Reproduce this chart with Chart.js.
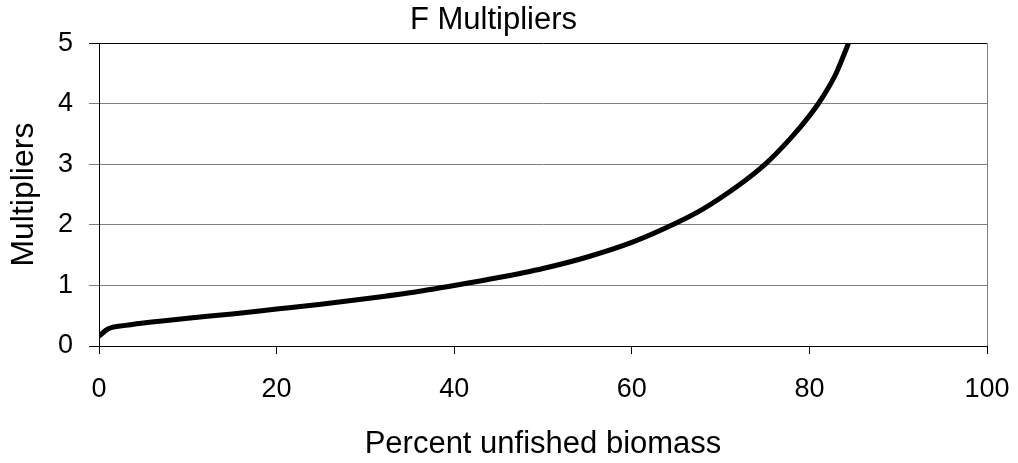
<!DOCTYPE html>
<html>
<head>
<meta charset="utf-8">
<script src="https://cdn.jsdelivr.net/npm/chart.js@4/dist/chart.umd.min.js"></script>
<style>
    html, body { margin: 0; padding: 0; background: #fff; }
    #wrap { width: 1018px; height: 463px; }
</style>
</head>
<body>
<div id="wrap"><canvas id="f-chart" width="1018" height="463"></canvas></div>
<script>
// Percent unfished biomass (x) and F multiplier (y)
const biomass = [0, 1, 3, 5, 10, 15, 20, 25, 30, 35, 40, 45, 50, 55, 60, 65, 68, 72, 75, 78, 80, 81, 82, 83, 84, 84.4];
const multipliers = [0.16, 0.28, 0.34, 0.38, 0.46, 0.53, 0.61, 0.69, 0.78, 0.88, 1.0, 1.13, 1.28, 1.47, 1.71, 2.03, 2.26, 2.65, 3.0, 3.45, 3.8, 4.0, 4.23, 4.5, 4.85, 5.0];
// Axis ticks
const xTicks = [0, 20, 40, 60, 80, 100];
const yTicks = [0, 1, 2, 3, 4, 5];

const FONT = "'Liberation Sans', Arial, sans-serif";

// right border of the plot area (gray, like the grid)
const frameRight = {
    id: 'frameRight',
    afterDraw(chart) {
        const { ctx, chartArea } = chart;
        ctx.save();
        ctx.strokeStyle = '#808080';
        ctx.lineWidth = 1;
        ctx.beginPath();
        ctx.moveTo(chartArea.right + 0.5, chartArea.top);
        ctx.lineTo(chartArea.right + 0.5, chartArea.bottom);
        ctx.stroke();
        ctx.restore();
    }
};

const chartCanvas = document.querySelector('#f-chart');
new Chart(chartCanvas, {
    type: 'line',
    data: {
        datasets: [
            {
                label: 'F multiplier',
                data: biomass.map((b, i) => ({ x: b, y: multipliers[i] })),
                borderColor: '#000',
                borderWidth: 5,
                pointRadius: 0,
                cubicInterpolationMode: 'monotone',
                fill: false
            }
        ]
    },
    options: {
        responsive: false,
        animation: false,
        layout: { padding: { left: 0, right: 31, top: 0, bottom: 0 } },
        plugins: {
            legend: { display: false },
            tooltip: { enabled: false },
            title: {
                display: true,
                text: 'F Multipliers',
                color: '#000',
                font: { family: FONT, size: 31, weight: 'normal' },
                padding: { top: 2, bottom: 4 }
            }
        },
        scales: {
            x: {
                type: 'linear',
                min: 0,
                max: 100,
                afterBuildTicks: (scale) => { scale.ticks = xTicks.map(v => ({ value: v })); },
                afterFit: (scale) => {
                    scale.height = 117;
                    // let the "100" label hang into the right margin
                    scale.paddingLeft = 0;
                    scale.paddingRight = 0;
                },
                grid: {
                    drawOnChartArea: false,
                    drawTicks: true,
                    tickLength: 8,
                    color: '#000'
                },
                border: { color: '#000', width: 1 },
                ticks: {
                    color: '#000',
                    padding: 19,
                    maxRotation: 0,
                    font: { family: FONT, size: 27 }
                },
                title: {
                    display: true,
                    text: 'Percent unfished biomass',
                    color: '#000',
                    font: { family: FONT, size: 31 },
                    padding: { top: 0, bottom: 0 }
                }
            },
            y: {
                min: 0,
                max: 5,
                afterBuildTicks: (scale) => { scale.ticks = yTicks.map(v => ({ value: v })); },
                afterFit: (scale) => { scale.width = 99; },
                grid: {
                    color: (ctx) => (ctx.tick && (ctx.tick.value === 5 || ctx.tick.value === 0)) ? '#000' : '#808080',
                    tickLength: 10
                },
                border: { color: '#000', width: 1 },
                ticks: {
                    color: '#000',
                    padding: 16,
                    font: { family: FONT, size: 27 }
                },
                title: {
                    display: true,
                    text: 'Multipliers',
                    color: '#000',
                    font: { family: FONT, size: 32 },
                    padding: { top: 5, bottom: 0 }
                }
            }
        }
    },
    plugins: [frameRight]
});
</script>
</body>
</html>
